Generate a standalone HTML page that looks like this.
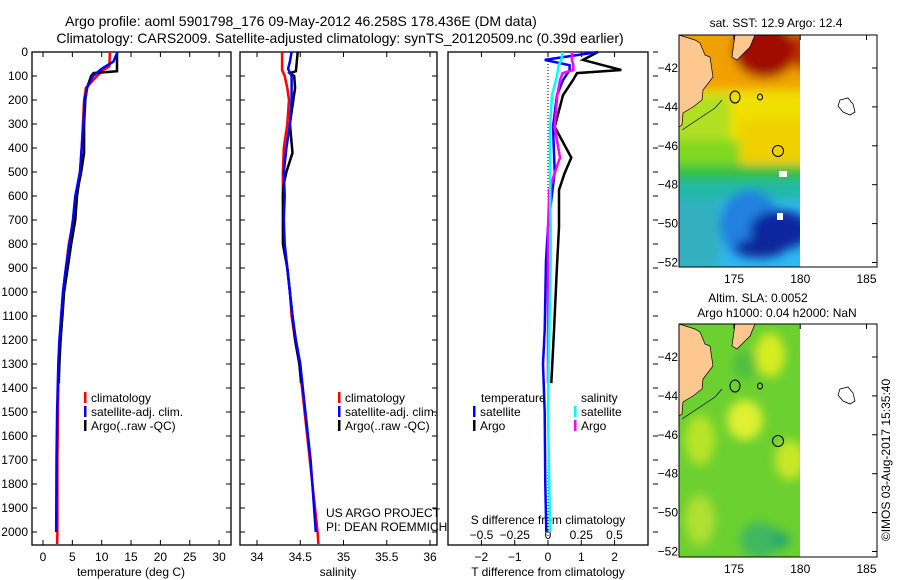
<!DOCTYPE html>
<html><head><meta charset="utf-8"><style>
html,body{margin:0;padding:0;background:#fff;}
svg{display:block;font-family:"Liberation Sans",sans-serif;}
</style></head><body>
<svg id="c" width="900" height="580" viewBox="0 0 900 580">
<defs>
<filter id="bl" x="-20%" y="-20%" width="140%" height="140%"><feGaussianBlur stdDeviation="5"/></filter>
<clipPath id="m1c"><rect x="679" y="35" width="121" height="232"/></clipPath>
<clipPath id="m2c"><rect x="679" y="324" width="121" height="233"/></clipPath>
</defs>
<text x="301" y="26" font-size="14" text-anchor="middle">Argo profile: aoml 5901798_176 09-May-2012 46.258S 178.436E (DM data)</text>
<text x="340" y="43" font-size="14" text-anchor="middle">Climatology: CARS2009. Satellite-adjusted climatology: synTS_20120509.nc (0.39d earlier)</text>
<g id="g1"></g>
<g id="g2"></g>
<g id="g3"></g>

<g>
<text x="776" y="27" font-size="12" text-anchor="middle">sat. SST: 12.9 Argo: 12.4</text>
<g clip-path="url(#m1c)">
<rect x="679" y="35" width="121" height="232" fill="#30b8f0"/>
<g filter="url(#bl)">
<rect x="670" y="25" width="140" height="75" fill="#f0a000"/>
<rect x="670" y="90" width="140" height="60" fill="#f0e000"/>
<rect x="670" y="95" width="60" height="45" fill="#b0e020"/>
<rect x="670" y="140" width="140" height="35" fill="#80d820"/>
<rect x="740" y="120" width="70" height="50" fill="#f0d000"/>
<rect x="670" y="165" width="140" height="20" fill="#30c040"/>
<rect x="670" y="180" width="140" height="20" fill="#20b8a8"/>
<rect x="670" y="200" width="50" height="70" fill="#30b0c0"/>
<ellipse cx="750" cy="225" rx="30" ry="35" fill="#2080e0"/>
<ellipse cx="780" cy="230" rx="30" ry="20" fill="#0828a0"/>
<ellipse cx="760" cy="248" rx="25" ry="10" fill="#102898"/>
<ellipse cx="765" cy="50" rx="32" ry="28" fill="#a00800"/>
<rect x="795" y="30" width="15" height="40" fill="#c03000"/>
</g>
<rect x="779" y="171" width="8" height="6" fill="#fff"/>
<rect x="777" y="213" width="6" height="7" fill="#fff"/>
<polygon points="679,35 695,40 700,43 705,55 710,57 713,77 703,90 702,100 693,107 683,113 682,125 679,127" fill="#fcc890" stroke="#000" stroke-width="0.7"/>
<polygon points="735,35 755,35 750,47 737,60 732,57" fill="#fcc890" stroke="#000" stroke-width="0.7"/>
<polyline points="682,130 700,118 715,108 722,100" fill="none" stroke="#000" stroke-width="0.7"/>
</g>
<ellipse cx="735" cy="97" rx="5" ry="6" fill="none" stroke="#000"/>
<ellipse cx="760" cy="97" rx="2.5" ry="3" fill="none" stroke="#000"/>
<circle cx="778" cy="151" r="5.5" fill="none" stroke="#000"/>
<path d="M840,100 L848,98 853,104 855,112 850,115 843,112 838,106Z" fill="none" stroke="#000" stroke-width="0.8"/>
<rect x="679" y="35" width="198" height="232" fill="none" stroke="#000"/>
</g>

<g>
<text x="758" y="302" font-size="12" text-anchor="middle">Altim. SLA: 0.0052</text>
<text x="777" y="317" font-size="12" text-anchor="middle">Argo h1000: 0.04 h2000: NaN</text>
<g clip-path="url(#m2c)">
<rect x="679" y="324" width="121" height="233" fill="#6cd030"/>
<g filter="url(#bl)">
<ellipse cx="770" cy="355" rx="15" ry="22" fill="#d8ec20"/>
<ellipse cx="745" cy="420" rx="18" ry="20" fill="#e0f030"/>
<ellipse cx="700" cy="440" rx="15" ry="25" fill="#b8e428"/>
<ellipse cx="790" cy="460" rx="15" ry="20" fill="#c8e828"/>
<ellipse cx="700" cy="520" rx="15" ry="25" fill="#b0e030"/>
<ellipse cx="760" cy="540" rx="20" ry="18" fill="#40b860"/>
<ellipse cx="780" cy="540" rx="10" ry="8" fill="#20a870"/>
<ellipse cx="745" cy="365" rx="12" ry="15" fill="#50c040"/>
</g>
<polygon points="679,324 695,329 700,332 705,344 710,346 713,366 703,379 702,389 693,396 683,402 682,414 679,416" fill="#fcc890" stroke="#000" stroke-width="0.7"/>
<polygon points="735,324 755,324 750,336 737,349 732,346" fill="#fcc890" stroke="#000" stroke-width="0.7"/>
<polyline points="682,419 700,407 715,397 722,389" fill="none" stroke="#000" stroke-width="0.7"/>
</g>
<ellipse cx="735" cy="386" rx="5" ry="6" fill="none" stroke="#000"/>
<ellipse cx="760" cy="386" rx="2.5" ry="3" fill="none" stroke="#000"/>
<circle cx="778" cy="441" r="5.5" fill="none" stroke="#000"/>
<path d="M840,389 L848,387 853,393 855,401 850,404 843,401 838,395Z" fill="none" stroke="#000" stroke-width="0.8"/>
<rect x="679" y="324" width="198" height="233" fill="none" stroke="#000"/>
</g>
<text transform="translate(890,460) rotate(-90)" font-size="12" text-anchor="middle">©IMOS 03-Aug-2017 15:35:40</text>
</svg>
<script>
const depthTicks=[0,100,200,300,400,500,600,700,800,900,1000,1100,1200,1300,1400,1500,1600,1700,1800,1900,2000];
const tempTicks=[0,5,10,15,20,25,30];
const salTicks=[34,34.5,35,35.5,36];
const tdiffTicks=[-2,-1,0,1,2];
const sdiffTicks=[-0.5,-0.25,0,0.25,0.5];
const latTicks=[-42,-44,-46,-48,-50,-52];
const lonTicks=[175,180,185];

const climDepth=[0,60,75,100,150,200,300,400,500,600,700,800,900,1000,1100,1200,1300,1400,1500,1700,2000,2050];
const climTemp=[11.4,11.3,10.3,9.2,7.3,7.0,6.8,6.6,6.3,5.6,5.2,4.4,3.9,3.4,3.1,2.9,2.7,2.6,2.55,2.45,2.45,2.4];
const climSal=[34.29,34.29,34.29,34.32,34.35,34.37,34.35,34.31,34.30,34.30,34.31,34.31,34.35,34.38,34.40,34.44,34.49,34.52,34.55,34.61,34.70,34.71];
const satDepth=[0,40,70,100,150,200,300,400,500,600,700,800,900,1000,1100,1200,1300,1400,1500,1700,2000];
const satTemp=[12.7,12.0,10.0,8.5,7.5,7.1,6.9,6.6,6.3,5.5,5.1,4.5,3.9,3.4,3.1,2.8,2.6,2.5,2.4,2.3,2.25];
const satSal=[34.40,34.38,34.36,34.40,34.40,34.40,34.38,34.34,34.31,34.32,34.31,34.32,34.35,34.38,34.41,34.45,34.50,34.53,34.56,34.62,34.68];
const argoDepth=[0,80,88,100,150,200,300,420,500,550,600,700,800,900,1000,1100,1200,1300,1380];
const argoTemp=[12.6,12.6,8.6,8.2,7.5,7.2,7.0,7.0,6.5,6.1,5.8,5.5,4.8,4.2,3.6,3.3,3.0,2.8,2.7];
const argoSal=[34.47,34.45,34.38,34.43,34.44,34.42,34.38,34.41,34.34,34.31,34.30,34.30,34.30,34.35,34.38,34.41,34.44,34.49,34.51];

const dDepthSat=[0,33,55,75,117,180,312,500,730,870,1160,1300,1500,1800,2000];
const dTsat=[1.5,-0.1,0.65,0.65,0.45,0.27,0.15,0.2,0.0,-0.06,-0.1,-0.15,-0.1,-0.08,-0.05];
const dSsat=[0.11,0.10,0.08,0.075,0.06,0.03,0.015,0.015,0.02,0.02,0.01,0.005,0.0,0.01,0.015];
const dDepthArgo=[0,33,55,75,88,117,180,312,440,505,575,730,890,1160,1380];
const dTargo=[1.5,1.05,1.65,2.2,0.87,0.75,0.45,0.2,0.7,0.5,0.33,0.33,0.27,0.18,0.1];
const dSargo=[0.18,0.18,0.19,0.19,0.11,0.09,0.07,0.05,0.09,0.05,0.01,0.0,0.0,0.0,0.0];

const NS='http://www.w3.org/2000/svg';
function mk(p,tag,at,txt){const e=document.createElementNS(NS,tag);for(const k in at)e.setAttribute(k,at[k]);if(txt!==undefined)e.textContent=txt;p.appendChild(e);return e;}
const Y=d=>52+d*0.24;
const panels=[{g:'g1',x0:32,x1:231},{g:'g2',x0:240,x1:437},{g:'g3',x0:448,x1:648}];
const xT=t=>43+t*5.87, xS=s=>257+(s-34)*86.5, xdT=t=>548+t*33.3, xdS=s=>548+s*133;

function stepLine(g,xs,ds,fx,col,w,name){
  let d='';for(let i=0;i<xs.length;i++){const x=fx(xs[i]),y=Y(ds[i]);d+=(i?'L':'M')+x.toFixed(1)+','+y.toFixed(1);}
  const p=mk(g,'path',{d:d,fill:'none',stroke:col,'stroke-width':w});
  
  
}
panels.forEach((P,i)=>{
  const g=document.getElementById(P.g);
  const fr=mk(g,'rect',{x:P.x0,y:52,width:P.x1-P.x0,height:493,fill:'none',stroke:'#000','stroke-width':1.3});
  
  
  depthTicks.forEach(d=>{
    if(i<2){mk(g,'line',{x1:P.x0,x2:P.x0+5,y1:Y(d),y2:Y(d),stroke:'#000'});mk(g,'line',{x1:P.x1-5,x2:P.x1,y1:Y(d),y2:Y(d),stroke:'#000'});}
    else {mk(g,'line',{x1:653,x2:658,y1:Y(d),y2:Y(d),stroke:'#000'});}
  });
});
const g1=document.getElementById('g1'),g2=document.getElementById('g2'),g3=document.getElementById('g3');
depthTicks.forEach(d=>{
  const t=mk(g1,'text',{x:28,y:Y(d)+4,'font-size':12,'text-anchor':'end'},String(d));
  
  
});
function bottomTicks(g,ticks,fx,y,lab){ticks.forEach(v=>{const x=fx(v);mk(g,'line',{x1:x,x2:x,y1:545,y2:540,stroke:'#000'});mk(g,'line',{x1:x,x2:x,y1:52,y2:57,stroke:'#000'});
  const t=mk(g,'text',{x:x,y:y,'font-size':12,'text-anchor':'middle'},String(v).replace('-','\u2212'));
  
  });}
bottomTicks(g1,tempTicks,xT,561,'temp-tick-label');
bottomTicks(g2,salTicks,xS,561,'salinity-tick-label');
bottomTicks(g3,tdiffTicks,xdT,561,'tdiff-tick-label');
sdiffTicks.forEach(v=>{const t=mk(g3,'text',{x:xdS(v),y:539,'font-size':12,'text-anchor':'middle'},String(v).replace('-','\u2212'));
  
  });
[[g1,131,'temperature (deg C)','x-axis-title-temperature'],[g2,338,'salinity','x-axis-title-salinity'],[g3,548,'T difference from climatology','x-axis-title-tdiff']].forEach(a=>{
  const t=mk(a[0],'text',{x:a[1],y:576,'font-size':12,'text-anchor':'middle'},a[2]);
  
  });
const st=mk(g3,'text',{x:548,y:524,'font-size':12,'text-anchor':'middle'},'S difference from climatology');


for(let y=52;y<545;y+=3)mk(g3,'rect',{x:547.5,y:y,width:1,height:1,fill:'#000'});

stepLine(g1,climTemp,climDepth,xT,'#f00',2.5,'climatology-temp-line');
stepLine(g1,argoTemp,argoDepth,xT,'#000',2.5,'argo-temp-line');
stepLine(g1,satTemp,satDepth,xT,'#00f',2.5,'satellite-temp-line');
stepLine(g2,climSal,climDepth,xS,'#f00',2.5,'climatology-salinity-line');
stepLine(g2,argoSal,argoDepth,xS,'#000',2.5,'argo-salinity-line');
stepLine(g2,satSal,satDepth,xS,'#00f',2.5,'satellite-salinity-line');
stepLine(g3,dTargo,dDepthArgo,xdT,'#000',2.5,'argo-tdiff-line');
stepLine(g3,dTsat,dDepthSat,xdT,'#00f',2.5,'satellite-tdiff-line');
stepLine(g3,dSargo,dDepthArgo,xdS,'#f0f',2.5,'argo-sdiff-line');
stepLine(g3,dSsat,dDepthSat,xdS,'#0ff',2.5,'satellite-sdiff-line');

function legend(g,x,y,col,txt,name){mk(g,'rect',{x:x,y:y-10,width:2.5,height:11,fill:col});
  const t=mk(g,'text',{x:x+7,y:y,'font-size':12},txt);
  
  }
[[g1,84],[g2,338]].forEach(a=>{
  legend(a[0],a[1],402,'#f00','climatology','legend-climatology');
  legend(a[0],a[1],416,'#00f','satellite-adj. clim.','legend-satellite');
  legend(a[0],a[1],430,'#000','Argo(..raw -QC)','legend-argo');});
const tt=mk(g3,'text',{x:481,y:402,'font-size':12},'temperature');


const ss=mk(g3,'text',{x:581,y:402,'font-size':12},'salinity');


legend(g3,473,416,'#00f','satellite','legend-t-satellite');
legend(g3,473,430,'#000','Argo','legend-t-argo');
legend(g3,574,416,'#0ff','satellite','legend-s-satellite');
legend(g3,574,430,'#f0f','Argo','legend-s-argo');
const p1=mk(g2,'text',{x:326,y:517,'font-size':12},'US ARGO PROJECT');


const p2=mk(g2,'text',{x:326,y:531,'font-size':12},'PI: DEAN ROEMMICH');



const svg=document.getElementById('c');
[[35,267,68],[324,557,357]].forEach(m=>{
  latTicks.forEach(l=>{const y=m[2]+(-42-l)*19.45;
    mk(svg,'line',{x1:877,x2:872,y1:y,y2:y,stroke:'#000'});
    const t=mk(svg,'text',{x:678,y:y+4,'font-size':12,'text-anchor':'end'},String(l).replace('-','\u2212'));
    
    });
  lonTicks.forEach(l=>{const x=734+(l-175)*13.25;
    mk(svg,'line',{x1:x,x2:x,y1:m[0],y2:m[0]+5,stroke:'#000'});
    const t=mk(svg,'text',{x:x,y:m[1]+16,'font-size':12,'text-anchor':'middle'},String(l));
    
    });
});
</script>
</body></html>
